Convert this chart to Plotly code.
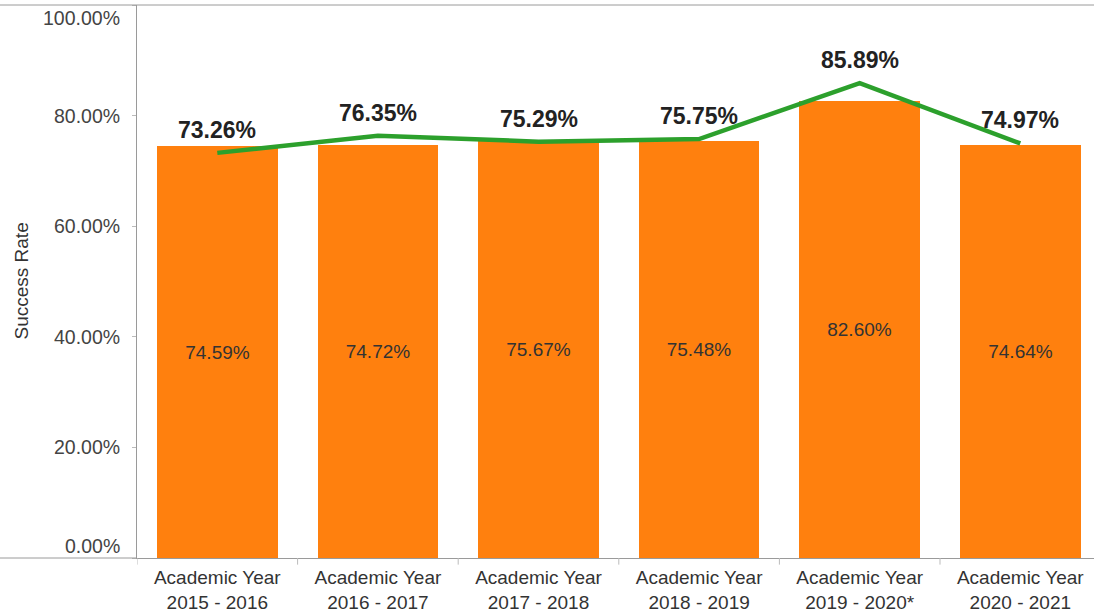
import plotly.graph_objects as go

categories = ["Academic Year<br>2015 - 2016", "Academic Year<br>2016 - 2017",
              "Academic Year<br>2017 - 2018", "Academic Year<br>2018 - 2019",
              "Academic Year<br>2019 - 2020*", "Academic Year<br>2020 - 2021"]
bar_values = [74.59, 74.72, 75.67, 75.48, 82.60, 74.64]
line_values = [73.26, 76.35, 75.29, 75.75, 85.89, 74.97]
y_ticks = [0, 20, 40, 60, 80, 100]
y_tick_labels = ["0.00%", "20.00%", "40.00%", "60.00%", "80.00%", "100.00%"]

FONT = "Liberation Sans, Arial, sans-serif"
x_idx = list(range(len(categories)))

W, H = 1094, 613
L, R, T, B = 137, 0, 5, 55
plot_w = W - L - R
cat_w = 160.6
x_right = plot_w / cat_w - 0.5

fig = go.Figure()
fig.add_trace(go.Bar(
    x=x_idx, y=bar_values, width=0.75,
    marker=dict(color="#FF800E", line=dict(width=0)),
    text=[f"{v:.2f}%" for v in bar_values],
    textposition="inside", insidetextanchor="middle",
    textfont=dict(family=FONT, size=19, color="#333333"),
    hoverinfo="skip", showlegend=False,
))
fig.add_trace(go.Scatter(
    x=x_idx, y=line_values, mode="lines",
    line=dict(color="#2CA02C", width=4.5),
    hoverinfo="skip", showlegend=False, cliponaxis=False,
))

# bold value labels above the line points
for xi, v in zip(x_idx, line_values):
    fig.add_annotation(x=xi, y=v, xref="x", yref="y", text=f"<b>{v:.2f}%</b>",
                       showarrow=False, yshift=23,
                       font=dict(family=FONT, size=23, color="#222222"))

# y tick labels (end labels nudged inward, as in the reference)
for t, lab in zip(y_ticks, y_tick_labels):
    shift = 12 if t == 0 else (-13 if t == 100 else 0)
    fig.add_annotation(x=-15 / plot_w, y=t, xref="paper", yref="y", text=lab,
                       showarrow=False, xanchor="right", yanchor="middle", yshift=shift,
                       font=dict(family=FONT, size=19.5, color="#444444"))

# y axis title
fig.add_annotation(x=-116 / plot_w, y=0.5, xref="paper", yref="paper", text="Success Rate",
                   showarrow=False, textangle=-90, xanchor="center", yanchor="middle",
                   font=dict(family=FONT, size=19, color="#333333"))

fig.update_layout(
    width=W, height=H,
    margin=dict(l=L, r=R, t=T, b=B, pad=0),
    paper_bgcolor="white", plot_bgcolor="white",
    font=dict(family=FONT, color="#333333"),
    bargap=0,
    xaxis=dict(
        range=[-0.5, x_right], tickmode="array", tickvals=x_idx, ticktext=categories,
        showgrid=False, zeroline=False, showline=True, linecolor="#9a9a9a", linewidth=1,
        ticks="", tickfont=dict(size=19, color="#333333"), ticklabelstandoff=2,
    ),
    yaxis=dict(
        range=[0, 100], tickmode="array", tickvals=y_ticks,
        showticklabels=False,
        showgrid=False, zeroline=False, showline=True, linecolor="#9a9a9a", linewidth=1,
        ticks="outside", ticklen=4, tickcolor="#bbbbbb",
    ),
)

# frame lines extending across the full width (top border and bottom axis extension)
fig.add_shape(type="line", xref="paper", yref="paper", x0=-L / plot_w, x1=1, y0=1, y1=1,
              line=dict(color="#9a9a9a", width=1))
fig.add_shape(type="line", xref="paper", yref="paper", x0=-L / plot_w, x1=0, y0=0, y1=0,
              line=dict(color="#9a9a9a", width=1))
# short divider ticks between categories below the axis
for i in range(len(categories)):
    fig.add_shape(type="line", xref="x", yref="paper", x0=i - 0.5, x1=i - 0.5, y0=0, y1=-0.012,
                  line=dict(color="#bbbbbb", width=1))

fig.write_html("out.html", config={"displayModeBar": False},
               post_script="document.body.style.margin='0';")
